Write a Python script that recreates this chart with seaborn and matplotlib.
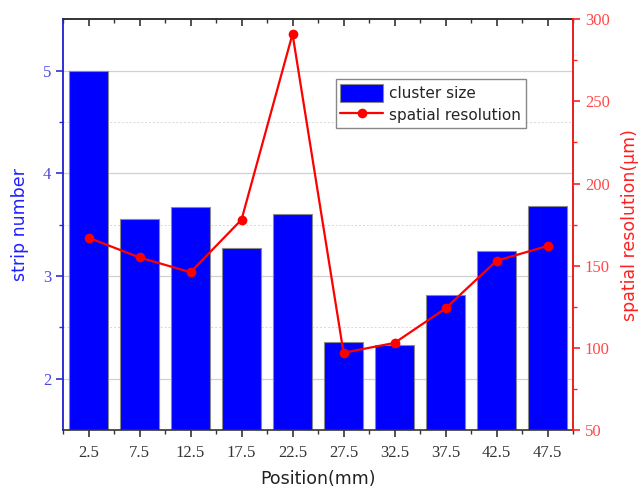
import numpy as np
import pandas as pd
import matplotlib
matplotlib.use('Agg')
import matplotlib.pyplot as plt
from matplotlib.ticker import MultipleLocator, FixedLocator, NullFormatter
import seaborn as sns

posicao = [2.5, 7.5, 12.5, 17.5, 22.5, 27.5, 32.5, 37.5, 42.5, 47.5]
cluster_size = [5.00, 3.55, 3.67, 3.27, 3.60, 2.36, 2.33, 2.81, 3.24, 3.68]
resolucao = [167, 155, 146, 178, 291, 97, 103, 124, 153, 162]
rotulos_x = ['2.5', '7.5', '12.5', '17.5', '22.5', '27.5', '32.5', '37.5', '42.5', '47.5']

df = pd.DataFrame({'pos': posicao, 'cluster': cluster_size, 'res': resolucao})

sns.set_theme(style='white')
plt.rcParams['font.family'] = ['DejaVu Sans']

serif = 'Liberation Serif'
azul_txt = '#4a4ae0'
verm_txt = '#ff4a4a'

fig = plt.figure(figsize=(6.41, 4.92), dpi=100)
ax = fig.add_axes([0.0983, 0.126, 0.7957, 0.835])

sns.barplot(data=df, x='pos', y='cluster', native_scale=True, width=0.78,
            color='#0000ff', saturation=1, edgecolor='#8a8a8a', linewidth=0.8,
            ax=ax, label='cluster size', zorder=2)

ax.set_xlim(0, 50)
ax.set_ylim(1.5, 5.5)
ax.yaxis.set_major_locator(FixedLocator([2, 3, 4, 5]))
ax.yaxis.set_minor_locator(FixedLocator([2.5, 3.5, 4.5]))
ax.xaxis.set_major_locator(FixedLocator(posicao))
ax.xaxis.set_minor_locator(MultipleLocator(5))
ax.set_xticklabels(rotulos_x)

ax.grid(axis='y', which='major', color='#d0d0d0', linewidth=0.9, zorder=0)
ax.grid(axis='y', which='minor', color='#d8d8d8', linewidth=0.7, linestyle=(0, (2, 2)), zorder=0)
ax.set_axisbelow(True)

ax.tick_params(axis='x', which='major', direction='out', length=5, width=1.2,
               top=False, bottom=True, colors='#333333', labelsize=12, pad=6)
ax.tick_params(axis='x', which='minor', direction='out', length=3, width=1,
               top=False, bottom=True, colors='#333333')
ax.tick_params(axis='y', which='major', direction='out', length=5, width=1.2,
               colors='#3030d0', labelcolor=azul_txt, labelsize=12, left=True)
ax.tick_params(axis='y', which='minor', direction='out', length=3, width=1,
               colors='#3030d0', left=True)
for lab in ax.get_xticklabels() + ax.get_yticklabels():
    lab.set_fontfamily(serif)

# eixo de cima, ticks para dentro
topo = ax.secondary_xaxis('top')
topo.xaxis.set_major_locator(FixedLocator(posicao))
topo.xaxis.set_minor_locator(MultipleLocator(5))
topo.xaxis.set_major_formatter(NullFormatter())
topo.tick_params(axis='x', which='major', direction='in', length=5, width=1.2, colors='#333333')
topo.tick_params(axis='x', which='minor', direction='in', length=3, width=1, colors='#333333')
topo.spines['top'].set_color('#333333')
topo.spines['top'].set_linewidth(1.2)

ax.set_xlabel('Position(mm)', fontsize=12.5, color='#222222', labelpad=6)
ax.set_ylabel('strip number', fontsize=12.5, color='#2020ff', labelpad=10)

ax.spines['left'].set_color('#2020d0')
ax.spines['left'].set_linewidth(1.3)
ax.spines['top'].set_color('#333333')
ax.spines['bottom'].set_color('#333333')
ax.spines['top'].set_linewidth(1.2)
ax.spines['bottom'].set_linewidth(1.2)

ax2 = ax.twinx()
sns.lineplot(data=df, x='pos', y='res', color='#ff0000', marker='o', markersize=7,
             markeredgewidth=0, linewidth=1.6, ax=ax2, label='spatial resolution', zorder=3)
ax2.set_ylim(50, 300)
ax2.yaxis.set_major_locator(MultipleLocator(50))
ax2.yaxis.set_minor_locator(MultipleLocator(25))
ax2.tick_params(axis='y', which='major', direction='out', length=5, width=1.2,
                colors='#ff2020', labelcolor=verm_txt, labelsize=12, right=True)
ax2.tick_params(axis='y', which='minor', direction='out', length=3, width=1,
                colors='#ff2020', right=True)
for lab in ax2.get_yticklabels():
    lab.set_fontfamily(serif)
ax2.set_ylabel('spatial resolution(μm)', fontsize=12.5, color='#ff2020', labelpad=8)
ax2.spines['right'].set_color('#ff2020')
ax2.spines['right'].set_linewidth(1.3)
ax2.spines['left'].set_visible(False)
ax2.spines['top'].set_visible(False)
ax2.spines['bottom'].set_visible(False)

h1, l1 = ax.get_legend_handles_labels()
h2, l2 = ax2.get_legend_handles_labels()
if ax.get_legend() is not None:
    ax.get_legend().remove()
ax2.legend(h1 + h2, l1 + l2, loc='upper right', bbox_to_anchor=(0.922, 0.872),
           fontsize=11, frameon=True, fancybox=False, edgecolor='#888888',
           framealpha=1, handlelength=2.8, handleheight=1.4, borderpad=0.3,
           labelspacing=0.3, handletextpad=0.4)

fig.savefig('out.png', dpi=100)
